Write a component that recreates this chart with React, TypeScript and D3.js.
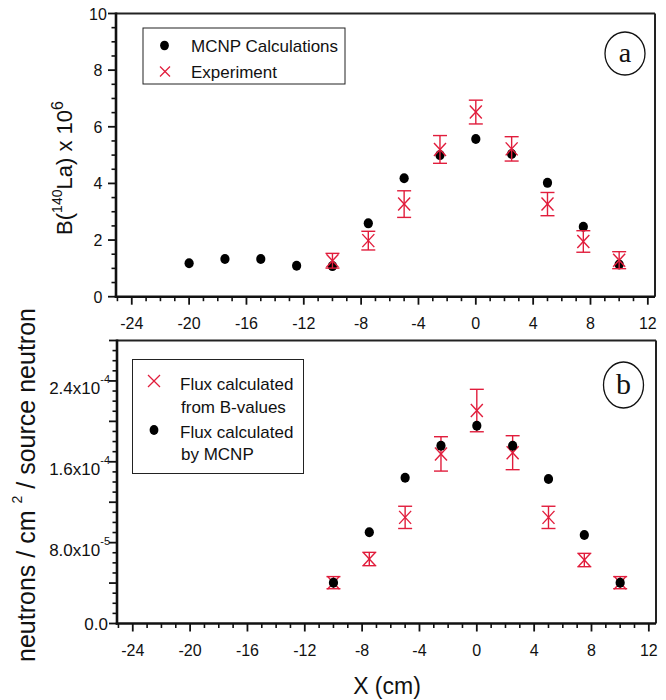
import React from "react";
import * as d3 from "d3";

// Panel (a): 140La activation per unit mass (B x 10^6)
const mcnpPositions = [-20, -17.5, -15, -12.5, -10, -7.5, -5, -2.5, 0, 2.5, 5, 7.5, 10];
const mcnpB = [1.18, 1.33, 1.33, 1.09, 1.08, 2.59, 4.18, 5.0, 5.57, 5.04, 4.02, 2.47, 1.14];
const expPositions = [-10, -7.5, -5, -2.5, 0, 2.5, 5, 7.5, 10];
const expB = [1.27, 1.98, 3.27, 5.2, 6.52, 5.22, 3.27, 1.95, 1.29];
const expBErr = [0.26, 0.33, 0.47, 0.49, 0.42, 0.43, 0.41, 0.38, 0.3];

// Panel (b): neutron flux per source neutron
const fluxPositions = [-10, -7.5, -5, -2.5, 0, 2.5, 5, 7.5, 10];
const fluxFromB = [4.04e-5, 6.38e-5, 10.5e-5, 16.78e-5, 21.07e-5, 16.9e-5, 10.5e-5, 6.28e-5, 4.04e-5];
const fluxFromBErr = [0.6e-5, 0.66e-5, 1.1e-5, 1.7e-5, 2.1e-5, 1.68e-5, 1.1e-5, 0.66e-5, 0.6e-5];
const fluxMcnp = [4.04e-5, 9.02e-5, 14.42e-5, 17.59e-5, 19.57e-5, 17.59e-5, 14.29e-5, 8.75e-5, 4.04e-5];

// Tick labels
const xTickValues = [-24, -20, -16, -12, -8, -4, 0, 4, 8, 12];
const bTickValues = [0, 2, 4, 6, 8, 10];
const fluxTickValues = [0, 8e-5, 1.6e-4, 2.4e-4];
const fluxTickMantissa = ["0.0", "8.0", "1.6", "2.4"];
const fluxTickExponent = ["", "-5", "-4", "-4"];

const RED = "#e11d3c";
const FONT = "'Liberation Sans', Arial, Helvetica, sans-serif";
const SERIF = "'Liberation Serif', 'Times New Roman', serif";

const xA = d3.scaleLinear().domain([-25.1, 12.5]).range([116, 655]);
const yA = d3.scaleLinear().domain([0, 10]).range([296.7, 13.5]);
const xB = d3.scaleLinear().domain([-25.1, 12.5]).range([117, 656]);
const yB = d3.scaleLinear().domain([0, 2.8e-4]).range([623.5, 340.5]);

function Cross({ cx, cy, w, h, sw = 1.4 }: { cx: number; cy: number; w: number; h: number; sw?: number }) {
  return (
    <g stroke={RED} strokeWidth={sw} fill="none">
      <line x1={cx - w} y1={cy - h} x2={cx + w} y2={cy + h} />
      <line x1={cx - w} y1={cy + h} x2={cx + w} y2={cy - h} />
    </g>
  );
}

function ErrorBar({ cx, yTop, yBot }: { cx: number; yTop: number; yBot: number }) {
  const cap = 7;
  return (
    <g stroke={RED} strokeWidth={1.4}>
      <line x1={cx} x2={cx} y1={yTop} y2={yBot} />
      <line x1={cx - cap} x2={cx + cap} y1={yTop} y2={yTop} />
      <line x1={cx - cap} x2={cx + cap} y1={yBot} y2={yBot} />
    </g>
  );
}

function Frame({
  x,
  y,
}: {
  x: d3.ScaleLinear<number, number>;
  y: d3.ScaleLinear<number, number>;
}) {
  const [x0, x1] = x.range();
  const [y0, y1] = y.range();
  return (
    <g>
      <line x1={x0} x2={x1} y1={y1} y2={y1} stroke="#222" strokeWidth={2} />
      <line x1={x1} x2={x1} y1={y1} y2={y0} stroke="#222" strokeWidth={2} />
      <line x1={x0} x2={x0} y1={y1 - 1} y2={y0 + 1.2} stroke="#111" strokeWidth={2.6} />
      <line x1={x0 - 1.2} x2={x1} y1={y0} y2={y0} stroke="#111" strokeWidth={2.6} />
    </g>
  );
}

function XAxis({ x, y0 }: { x: d3.ScaleLinear<number, number>; y0: number }) {
  const minor = d3.range(-25, 13, 1).filter((v) => v % 4 !== 0);
  return (
    <g>
      {minor.map((v) => (
        <line key={"m" + v} x1={x(v)} x2={x(v)} y1={y0} y2={y0 + 4.5} stroke="#111" strokeWidth={1.6} />
      ))}
      {xTickValues.map((v) => (
        <g key={v}>
          <line x1={x(v)} x2={x(v)} y1={y0} y2={y0 + 8} stroke="#111" strokeWidth={1.8} />
          <text x={x(v)} y={y0 + 32} textAnchor="middle" fontSize={16} fontFamily={FONT} fill="#111">
            {v}
          </text>
        </g>
      ))}
    </g>
  );
}

export default function App() {
  const x0A = xA.range()[0];
  const x0B = xB.range()[0];
  const minorA = d3.range(0, 10.01, 0.5).filter((v) => v % 2 !== 0);
  const minorB = d3.range(0, 2.8e-4 + 1e-9, 1e-5).filter((v) => Math.round(v / 1e-5) % 4 !== 0);
  const midB = d3.range(4e-5, 2.8e-4 + 1e-9, 8e-5);

  return (
    <svg
      width={666}
      height={700}
      viewBox="0 0 666 700"
      style={{ position: "absolute", left: 0, top: 0, background: "#fff" }}
    >
      <rect width={666} height={700} fill="#fff" />

      {/* ---------- panel (a) ---------- */}
      <Frame x={xA} y={yA} />
      <XAxis x={xA} y0={yA.range()[0]} />
      {minorA.map((v) => (
        <line key={"ma" + v} x1={x0A - 4.5} x2={x0A} y1={yA(v)} y2={yA(v)} stroke="#111" strokeWidth={1.6} />
      ))}
      {bTickValues.map((v) => (
        <g key={"ta" + v}>
          <line x1={x0A - 8} x2={x0A} y1={yA(v)} y2={yA(v)} stroke="#111" strokeWidth={1.8} />
          <text x={98} y={yA(v) + 6} textAnchor="middle" fontSize={16} fontFamily={FONT} fill="#111">
            {v}
          </text>
        </g>
      ))}
      <text
        transform={`translate(72,168) rotate(-90)`}
        textAnchor="middle"
        fontSize={22}
        fontFamily={FONT}
        fill="#111"
      >
        B(
        <tspan fontSize={14} dy={-10}>
          140
        </tspan>
        <tspan dy={10}>La) x 10</tspan>
        <tspan fontSize={16} dy={-9}>
          6
        </tspan>
      </text>

      {/* model values drawn beneath the measurements */}
      {mcnpPositions.map((p, i) => (
        <ellipse key={"da" + i} cx={xA(p)} cy={yA(mcnpB[i])} rx={4.6} ry={5} fill="#000" />
      ))}
      {expPositions.map((p, i) => (
        <g key={"ea" + i}>
          <ErrorBar cx={xA(p)} yTop={yA(expB[i] + expBErr[i])} yBot={yA(expB[i] - expBErr[i])} />
          <Cross cx={xA(p)} cy={yA(expB[i])} w={6} h={6.5} />
        </g>
      ))}

      {/* legend (a) */}
      <rect x={143} y={28} width={202} height={56} fill="#fff" stroke="#222" strokeWidth={1} />
      <ellipse cx={164.5} cy={45.5} rx={4.4} ry={4.8} fill="#000" />
      <text x={191} y={52} fontSize={17} fontFamily={FONT} fill="#111">
        MCNP Calculations
      </text>
      <Cross cx={165} cy={71.5} w={5} h={5} sw={1.2} />
      <text x={191} y={78} fontSize={17} fontFamily={FONT} fill="#111">
        Experiment
      </text>

      <ellipse cx={625} cy={53.5} rx={20} ry={21.5} fill="none" stroke="#111" strokeWidth={1.3} />
      <text x={625} y={62} textAnchor="middle" fontSize={28} fontFamily={SERIF} fill="#111">
        a
      </text>

      {/* ---------- panel (b) ---------- */}
      <Frame x={xB} y={yB} />
      <XAxis x={xB} y0={yB.range()[0]} />
      {minorB.map((v, i) => (
        <line key={"mb" + i} x1={x0B - 4.5} x2={x0B} y1={yB(v)} y2={yB(v)} stroke="#111" strokeWidth={1.6} />
      ))}
      {midB.map((v, i) => (
        <line key={"hb" + i} x1={x0B - 8} x2={x0B} y1={yB(v)} y2={yB(v)} stroke="#111" strokeWidth={1.8} />
      ))}
      {fluxTickValues.map((v, i) => (
        <g key={"tb" + i}>
          <line x1={x0B - 8} x2={x0B} y1={yB(v)} y2={yB(v)} stroke="#111" strokeWidth={1.8} />
          {fluxTickExponent[i] ? (
            <text x={110} y={yB(v) + 13} textAnchor="end" fontSize={17} fontFamily={FONT} fill="#111">
              {fluxTickMantissa[i]}x10
              <tspan fontSize={11} dy={-11}>
                {fluxTickExponent[i]}
              </tspan>
            </text>
          ) : (
            <text x={108} y={yB(v) + 6} textAnchor="end" fontSize={17} fontFamily={FONT} fill="#111">
              {fluxTickMantissa[i]}
            </text>
          )}
        </g>
      ))}
      <text
        transform={`translate(35,485) rotate(-90)`}
        textAnchor="middle"
        fontSize={25}
        fontFamily={FONT}
        fill="#111"
      >
        neutrons / cm
        <tspan fontSize={14} dy={-13} dx={7}>
          2
        </tspan>
        <tspan dy={13} dx={7}>
          / source neutron
        </tspan>
      </text>

      {/* measurements first, model values on top */}
      {fluxPositions.map((p, i) => (
        <g key={"eb" + i}>
          <ErrorBar
            cx={xB(p)}
            yTop={yB(fluxFromB[i] + fluxFromBErr[i])}
            yBot={yB(fluxFromB[i] - fluxFromBErr[i])}
          />
          <Cross cx={xB(p)} cy={yB(fluxFromB[i])} w={6} h={6.5} />
        </g>
      ))}
      {fluxPositions.map((p, i) => (
        <ellipse key={"db" + i} cx={xB(p)} cy={yB(fluxMcnp[i])} rx={4.6} ry={5} fill="#000" />
      ))}

      {/* legend (b) */}
      <rect x={132.5} y={359.5} width={171} height={114} fill="#fff" stroke="#222" strokeWidth={1} />
      <Cross cx={154} cy={381} w={6} h={6} sw={1.3} />
      <text x={180} y={390} fontSize={17} fontFamily={FONT} fill="#111">
        Flux calculated
      </text>
      <text x={181} y={413} fontSize={17} fontFamily={FONT} fill="#111">
        from B-values
      </text>
      <ellipse cx={154} cy={430} rx={4.4} ry={5} fill="#000" />
      <text x={180} y={438} fontSize={17} fontFamily={FONT} fill="#111">
        Flux calculated
      </text>
      <text x={181} y={460} fontSize={17} fontFamily={FONT} fill="#111">
        by MCNP
      </text>

      <ellipse cx={623.5} cy={385} rx={20} ry={23} fill="none" stroke="#111" strokeWidth={1.3} />
      <text x={623.5} y={394} textAnchor="middle" fontSize={30} fontFamily={SERIF} fill="#111">
        b
      </text>

      <text x={387} y={694} textAnchor="middle" fontSize={23} fontFamily={FONT} fill="#111">
        X (cm)
      </text>
    </svg>
  );
}
